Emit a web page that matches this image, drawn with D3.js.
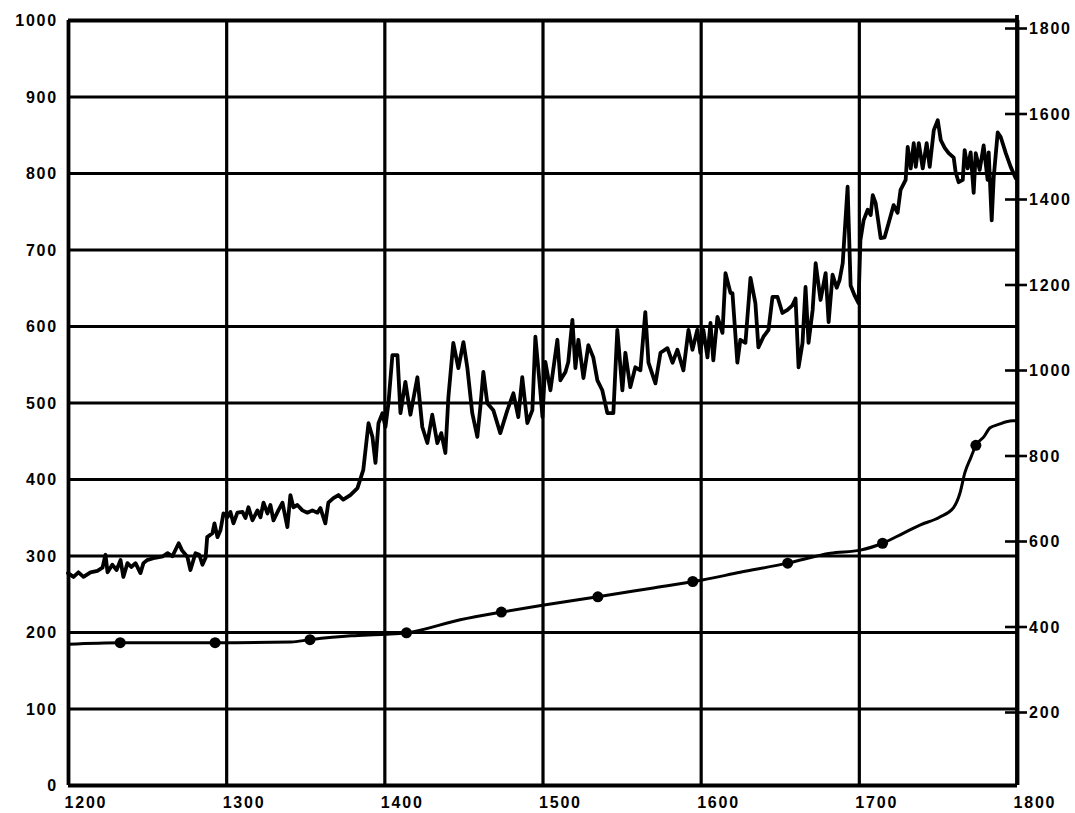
<!DOCTYPE html>
<html>
<head>
<meta charset="utf-8">
<script src="https://cdn.jsdelivr.net/npm/d3@7/dist/d3.min.js"></script>
<style>
  html, body { margin: 0; padding: 0; background: #fff; }
  svg { display: block; }
  .lbl text { font-family: "Liberation Sans", Arial, sans-serif; font-weight: bold; font-size: 16px; letter-spacing: 1.8px; fill: #000; }
</style>
</head>
<body>
<svg id="chart" width="1075" height="813"></svg>
<script>
// ---------- DATA ----------
const xTicks = [1200, 1300, 1400, 1500, 1600, 1700, 1800];
const yLeftTicks = [0, 100, 200, 300, 400, 500, 600, 700, 800, 900, 1000];
const yRightTicks = [200, 400, 600, 800, 1000, 1200, 1400, 1600, 1800];

// upper (noisy) series
const seriesAYears = [
  1200,1203.5,1206.6,1209.8,1214.2,1218.6,1221.8,1223.7,1225,1228,
  1230.7,1233.2,1235,1237.6,1240,1242.7,1245.8,1247.7,1250,1255,
  1260,1263,1266,1270,1272,1275.5,1277.4,1280.6,1283,1285,
  1287,1288,1291.3,1292.6,1294.5,1296.4,1298.3,1300.8,1302.7,1304.6,
  1307.1,1310.3,1312.2,1314.1,1316.6,1319.8,1321.7,1323.6,1326.1,1328,
  1329.9,1333,1335.6,1338.7,1340.6,1342.5,1345,1348.2,1351.3,1354.5,
  1357.7,1359.6,1362.7,1364.6,1367.8,1371,1374,1378.5,1383,1386.7,
  1390,1392.5,1394.4,1396.3,1398.8,1400.7,1402.6,1405.1,1408.3,1410.2,
  1413.3,1416.5,1420.9,1424,1427.2,1430.3,1433.5,1436,1438.6,1440.5,
  1443.6,1446.8,1450,1452.5,1455.6,1458.8,1460.7,1462.6,1465.1,1468.9,
  1473.3,1477.8,1481.6,1484.7,1487.2,1490.4,1493.6,1495.5,1498.6,1500,
  1501.8,1505,1509.4,1511.3,1514.5,1516.3,1518.9,1520.8,1522.7,1525.9,
  1529,1532.1,1534.7,1537.8,1541,1544.8,1547.3,1550.5,1552.4,1555.5,
  1558.7,1561.9,1565,1567,1571.4,1574.6,1579,1582.2,1585.3,1589.1,
  1592.3,1594.8,1597.9,1599.8,1601.7,1604.3,1606.2,1608,1610.6,1613.8,
  1615.7,1618.9,1620.1,1623.2,1625.1,1628.3,1631.5,1634.6,1636.5,1639.7,
  1642.9,1645.4,1648.6,1651.7,1654.9,1658,1660,1661.9,1664.4,1666.3,
  1668.2,1670.8,1672.7,1675.8,1679,1680.9,1683.4,1686,1687.8,1689.8,
  1692.9,1694.8,1697.3,1699.8,1701,1703,1705.6,1707.5,1708.8,1710.6,
  1713.8,1716.3,1718.9,1722,1724.5,1726.4,1729.6,1730.9,1732.8,1734.7,
  1736,1737.9,1740.4,1742.9,1744.8,1747.4,1749.9,1751.8,1754.3,1756.8,
  1760,1761.2,1763.1,1765.7,1766.9,1768.8,1770.7,1772.6,1773.9,1776.4,
  1778.9,1781.4,1782.1,1784,1785.3,1787.8,1789.7,1792.9,1796,1799.2
];
const seriesAValues = [
  277,272,278,272,278,280,284,301,278,288,
  281,294,272,290,285,290,277,290,294,297,
  299,303,299,316,307,298,281,303,301,288,
  297,324,329,342,324,333,355,350,357,342,
  356,357,349,363,346,359,350,369,355,366,
  346,359,369,337,379,363,366,359,356,359,
  356,362,342,369,375,379,373,379,388,412,
  473,455,421,473,486,468,499,562,562,486,
  527,484,533,468,447,484,447,460,434,507,
  578,545,579,545,486,455,494,540,499,490,
  460,490,512,481,533,473,490,586,516,481,
  553,516,582,529,540,553,608,545,582,532,
  575,559,529,516,486,486,595,516,565,520,
  546,542,618,552,525,565,571,552,569,542,
  595,569,595,565,595,559,604,555,612,591,
  669,643,643,552,582,578,663,630,572,586,
  595,638,638,617,621,627,636,546,578,651,
  578,621,682,634,669,605,667,650,660,682,
  782,653,640,630,712,738,752,745,771,761,
  715,716,735,758,748,778,791,834,806,839,
  808,839,806,839,808,856,869,843,833,826,
  820,801,788,791,830,806,827,774,826,804,
  836,791,827,738,795,853,847,826,808,793
];

// lower (smooth) series
const seriesBYears = [1200,1233,1293,1341,1353,1379,1400,1414,1448,1474,1500,1535,1568,1601,1625,
  1655,1682,1701,1715,1728,1739,1751,1760,1764,1767,1771,1774,1779,1783,1788,1797,1800];
const seriesBValues = [184,186,186,187,190,195,197,199,216,226,235,246,257,268,278,
  290,303,307,316,329,340,350,363,382,408,429,444,455,467,471,476,476];

// markers on the lower series
const markerYears = [1233,1293,1353,1414,1474,1535,1595,1655,1715,1774];
const markerValues = [186,186,190,199,226,246,266,290,316,444];

// ---------- CHART ----------
const svg = d3.select("#chart");
const x = d3.scaleLinear().domain([1200, 1800]).range([68, 1017]);
const y = d3.scaleLinear().domain([0, 1000]).range([785, 20]);
const yR = d3.scaleLinear().domain([0, 1800]).range([797.5, 28]);
const plotH = y(0) - y(1000);
const plotW = x(1800) - x(1200);

// vertical gridlines + bottom labels
const gx = svg.append("g").attr("class", "lbl")
  .attr("transform", `translate(0,${y(0)})`)
  .call(d3.axisBottom(x).tickValues(xTicks).tickFormat(d3.format("d")).tickSize(-plotH).tickPadding(0));
gx.select(".domain").remove();
gx.selectAll(".tick line").attr("stroke", "#000")
  .attr("stroke-width", d => (d === 1200 || d === 1800) ? 3.8 : 3.2);
gx.selectAll(".tick text").attr("text-anchor", "start").attr("dx", -4).attr("y", 23).attr("dy", 0);

// horizontal gridlines + left labels
const gy = svg.append("g").attr("class", "lbl")
  .attr("transform", `translate(${x(1200)},0)`)
  .call(d3.axisLeft(y).tickValues(yLeftTicks).tickFormat(d3.format("d")).tickSize(-plotW).tickPadding(10));
gy.select(".domain").remove();
gy.selectAll(".tick line").attr("stroke", "#000")
  .attr("stroke-width", d => (d === 0 || d === 1000) ? 3.8 : 3.2);
gy.selectAll(".tick text").attr("dy", "0.36em");

// right axis
const gr = svg.append("g").attr("class", "lbl")
  .attr("transform", `translate(${x(1800)},0)`)
  .call(d3.axisRight(yR).tickValues(yRightTicks).tickFormat(d3.format("d")).tickSize(10).tickPadding(3));
gr.select(".domain").remove();
gr.selectAll(".tick line").attr("stroke", "#000").attr("stroke-width", 2.6).attr("x1", -12).attr("x2", 10);
gr.selectAll(".tick text").attr("dy", "0.36em").attr("x", 12);
svg.append("line")
  .attr("x1", x(1800)).attr("x2", x(1800))
  .attr("y1", yR(1800) - 13).attr("y2", y(0))
  .attr("stroke", "#000").attr("stroke-width", 3.8);

// upper series
const dataA = seriesAYears.map((yr, i) => [yr, seriesAValues[i]]);
svg.append("path")
  .datum(dataA)
  .attr("fill", "none")
  .attr("stroke", "#000")
  .attr("stroke-width", 3.8)
  .attr("stroke-linejoin", "round")
  .attr("stroke-linecap", "round")
  .attr("d", d3.line().x(d => x(d[0])).y(d => y(d[1])));

// lower series
const dataB = seriesBYears.map((yr, i) => [yr, seriesBValues[i]]);
svg.append("path")
  .datum(dataB)
  .attr("fill", "none")
  .attr("stroke", "#000")
  .attr("stroke-width", 3)
  .attr("stroke-linejoin", "round")
  .attr("d", d3.line().curve(d3.curveMonotoneX).x(d => x(d[0])).y(d => y(d[1])));

// markers
svg.append("g").selectAll("circle")
  .data(markerYears.map((yr, i) => [yr, markerValues[i]]))
  .join("circle")
  .attr("cx", d => x(d[0]))
  .attr("cy", d => y(d[1]))
  .attr("r", 5.5)
  .attr("fill", "#000");
</script>
</body>
</html>
